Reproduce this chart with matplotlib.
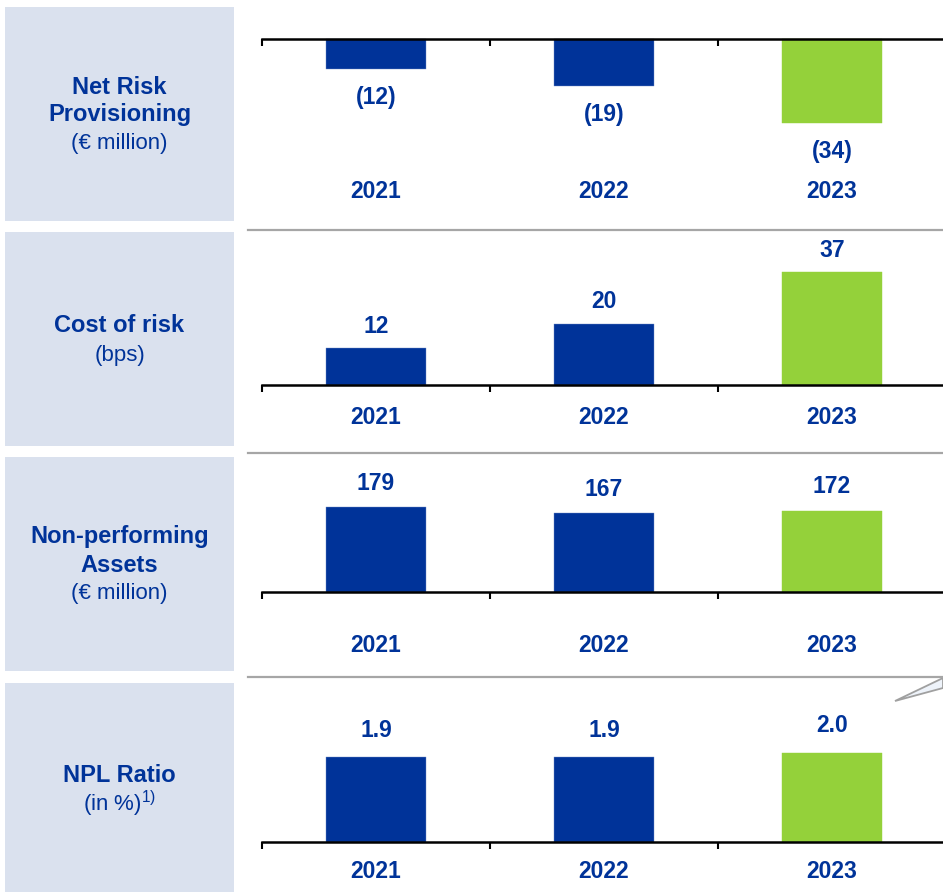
import numpy as np
import matplotlib
matplotlib.use('Agg')
import matplotlib.pyplot as plt
from matplotlib.patches import Rectangle, Polygon
from matplotlib.lines import Line2D

plt.rcParams['font.family'] = ['Liberation Sans', 'DejaVu Sans']
plt.rcParams['mathtext.fontset'] = 'custom'
plt.rcParams['mathtext.rm'] = 'Liberation Sans'

# data
years = ['2021', '2022', '2023']
net_risk = [-12, -19, -34]          # EUR million
cost_of_risk = [12, 20, 37]         # bps
npa = [179, 167, 172]               # EUR million
npl_ratio = [1.9, 1.9, 2.0]         # in %

net_risk_labels = ['(12)', '(19)', '(34)']
cost_labels = ['12', '20', '37']
npa_labels = ['179', '167', '172']
npl_labels = ['1.9', '1.9', '2.0']

navy = '#003399'
green = '#94D13A'
box_c = '#DAE1EE'
bar_colors = [navy, navy, green]
edge_colors = ['#6F8CC8', '#6F8CC8', green]

W, H = 943, 892
fig = plt.figure(figsize=(W/100, H/100), dpi=100)

def fx(px): return px / W
def fy(py): return 1 - py / H

# left label boxes
boxes = [(7, 221), (232, 446), (457, 671), (683, 892)]
for top, bot in boxes:
    fig.add_artist(Rectangle((fx(5), fy(bot)), fx(229), (bot - top)/H,
                             facecolor=box_c, edgecolor='none'))

def label(py, s, bold=True, size=17):
    fig.text(fx(119.5), fy(py), s, ha='center', va='center', color=navy,
             fontsize=size, fontweight='bold' if bold else 'normal')

label(87, 'Net Risk')
label(115, 'Provisioning')
label(144, '(€ million)', bold=False, size=16)
label(326, 'Cost of risk')
label(355, '(bps)', bold=False, size=16)
label(537, 'Non-performing')
label(566, 'Assets')
label(594, '(€ million)', bold=False, size=16)
label(776, 'NPL Ratio')
label(804, r'(in %)$^{\mathrm{1)}}$', bold=False, size=16)

# grey separators between panels
for py in [230, 453, 677]:
    fig.add_artist(Line2D([fx(248), fx(943)], [fy(py), fy(py)],
                          color='#A6A6A6', lw=1.6))

# callout pointer
fig.add_artist(Polygon([(fx(943), fy(678)), (fx(895), fy(701)), (fx(943), fy(688))],
                       closed=True, facecolor='#EEF3FA', edgecolor='#A0A0A0', lw=1.3))

def panel(top, bot, zero, ppu, vals, labels, lab_off, year_off):
    ax = fig.add_axes([fx(262), fy(bot), fx(684), (bot - top)/H])
    ax.set_xlim(-0.5, 2.5)
    ax.set_ylim(-(bot - zero)/ppu, (zero - top)/ppu)
    x = np.arange(len(vals))
    ax.bar(x, vals, width=0.44, color=bar_colors, edgecolor=edge_colors, linewidth=0.3)
    for s in ['top', 'left', 'right']:
        ax.spines[s].set_visible(False)
    ax.spines['bottom'].set_position(('data', 0))
    ax.spines['bottom'].set_linewidth(1.8)
    ax.set_yticks([])
    ax.set_xticks([-0.5, 0.5, 1.5])
    ax.tick_params(axis='x', direction='out', length=5, width=1.5,
                   labelbottom=False)
    ax.patch.set_alpha(0)
    for i, v in enumerate(vals):
        off = lab_off if v >= 0 else -lab_off
        ax.annotate(labels[i], (i, v), xytext=(0, off), textcoords='offset pixels',
                    ha='center', va='center', color=navy, fontsize=16.5,
                    fontweight='bold')
        ax.annotate(years[i], (i, 0), xytext=(0, -year_off), textcoords='offset pixels',
                    ha='center', va='center', color=navy, fontsize=16.5,
                    fontweight='bold')
    return ax

panel(7, 221, 39, 2.47, net_risk, net_risk_labels, 29, 152)
panel(232, 446, 385, 3.05, cost_of_risk, cost_labels, 22, 32)
panel(457, 671, 592, 0.473, npa, npa_labels, 24, 53)
panel(683, 892, 842, 44.5, npl_ratio, npl_labels, 27, 29)

fig.savefig('out.png', dpi=100)
